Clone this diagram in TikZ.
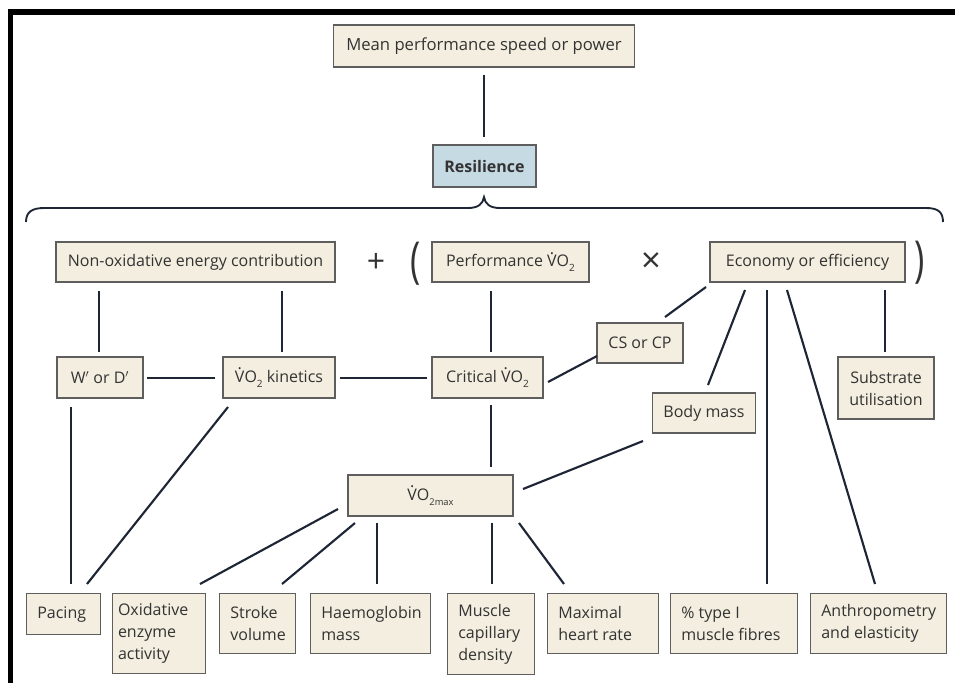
\documentclass[tikz,border=0pt]{standalone}
\usepackage{fontspec}
\usepackage{graphicx}
\setmainfont{Open Sans}
\usetikzlibrary{calc}
\definecolor{beige}{HTML}{F3EEDF}
\definecolor{bline}{HTML}{5E5E5E}
\definecolor{cline}{HTML}{1E2636}
\definecolor{resblue}{HTML}{C5DAE3}
\definecolor{txt}{HTML}{333333}
\newcommand\Vd{V\llap{\raisebox{0.78em}{.}\kern0.17em}}
\newcommand\lowsub[1]{\raisebox{-0.32em}{\fontsize{7.5}{7.5}\selectfont #1}}
\newcommand\VOt{\Vd O\lowsub{2}}
\begin{document}
\begin{tikzpicture}[x=0.75pt,y=-0.75pt,
  box/.style={draw=bline, fill=beige, line width=1pt, text=txt, inner xsep=8pt, inner ysep=3pt,
    font=\fontsize{12}{16.5}\selectfont},
  sz/.style 2 args={minimum width=#1*0.75pt, minimum height=#2*0.75pt},
  bot/.style={box, align=flush left, anchor=north west},
  conn/.style={draw=cline, line width=1.6pt},
  sym/.style={text=txt, inner sep=0pt}
]
\useasboundingbox (0,0) rectangle (955,683);
% frame
\fill[black] (8,9) rectangle (13,683);
\fill[black] (8,9) rectangle (955,15);

% nodes
\node[box, sz={301}{42}, font=\fontsize{12.5}{16.5}\selectfont] (mean) at (484,46) {Mean performance speed or power};
\node[box, sz={103}{42}, fill=resblue, font=\fontsize{12}{14}\selectfont\bfseries] (res) at (484.5,166) {Resilience};
\node[box, sz={279}{40}] (nonox) at (195.5,262) {Non-oxidative energy contribution};
\node[box, sz={157}{40}, inner xsep=4pt] (perf) at (510.5,262) {Performance \VOt};
\node[box, sz={195}{40}] (econ) at (807.5,262) {Economy or efficiency};
\node[box, sz={86}{41}] (wd) at (100,377.5) {W$'$ or D$'$};
\node[box, sz={112}{41}] (kin) at (279,377.5) {\VOt\ kinetics};
\node[box, sz={111}{41}] (crit) at (487.5,377.5) {Critical \VOt};
\node[box, sz={86}{40}] (cs) at (640,343) {CS or CP};
\node[box, sz={102}{40}] (body) at (704,413) {Body mass};
\node[box, sz={96}{62}, align=center] (sub) at (886,388) {Substrate\\utilisation};
\node[box, sz={165}{41}] (vmax) at (430.5,495.5) {\Vd O\lowsub{\fontsize{7}{7}\selectfont 2max}};

\node[bot, sz={74}{41}, text width=39.5pt] (pacing) at (26,593) {Pacing};
\node[bot, sz={93}{80}, inner xsep=4pt, text width=61.75pt] (oxid) at (112,593) {Oxidative\\enzyme\\activity};
\node[bot, sz={76}{60}, text width=41pt] (stroke) at (219,593) {Stroke\\volume};
\node[bot, sz={120}{60}, text width=74pt] (haem) at (310,593) {Haemoglobin\\mass};
\node[bot, sz={87}{81}, text width=49.25pt] (muscle) at (447,593) {Muscle\\capillary\\density};
\node[bot, sz={111}{60}, text width=67.25pt] (maxhr) at (547,593) {Maximal\\heart rate};
\node[bot, sz={127}{60}, text width=79.25pt] (type1) at (670,593) {\% type I\\muscle fibres};
\node[bot, sz={136}{60}, text width=86pt] (anthro) at (810,593) {Anthropometry\\and elasticity};

% operators
\node[sym, font=\fontsize{24}{24}\selectfont] (plus) at (376,263) {+};
\node[sym, font=\fontsize{26}{26}\selectfont] (times) at (651,263) {×};
\node[sym, font=\fontsize{26}{26}\selectfont] (lpar) at (416,264) {\scalebox{1}[1.43]{(}};
\node[sym, font=\fontsize{26}{26}\selectfont] (rpar) at (920,263) {\scalebox{1}[1.43]{)}};

% brace
\draw[cline, line width=1.4pt] (26,222) .. controls (26,212) and (32,208) .. (44,208) -- (468,208)
  .. controls (478,208) and (483,204) .. (484,197) .. controls (485,204) and (490,208) .. (500,208)
  -- (926,208) .. controls (938,208) and (943,212) .. (943,222);

% connectors
\draw[conn] ($(mean.center)+(0,29)$) -- ($(res.center)+(-0.5,-29)$);
\draw[conn] ($(nonox.center)+(-96.5,29)$) -- ($(wd.center)+(-1,-25.5)$);
\draw[conn] ($(nonox.center)+(86.5,29)$) -- ($(kin.center)+(3,-25.5)$);
\draw[conn] ($(wd.center)+(47,0.5)$) -- ($(kin.center)+(-64,0.5)$);
\draw[conn] ($(kin.center)+(61,0.5)$) -- ($(crit.center)+(-60.5,0.5)$);
\draw[conn] ($(perf.center)+(-19.5,29)$) -- ($(crit.center)+(3.5,-25.5)$);
\draw[conn] ($(econ.center)+(-101.5,25)$) -- ($(cs.center)+(25,-26)$);
\draw[conn] ($(cs.center)+(-43,13)$) -- ($(crit.center)+(60.5,4.5)$);
\draw[conn] ($(econ.center)+(-62.5,28)$) -- ($(body.center)+(4,-28)$);
\draw[conn] ($(econ.center)+(-40.5,28)$) -- ($(type1.north west)+(97,-9)$);
\draw[conn] ($(econ.center)+(-20.5,28)$) -- ($(anthro.north west)+(65,-9)$);
\draw[conn] ($(econ.center)+(77.5,28)$) -- ($(sub.center)+(-1,-36)$);
\draw[conn] ($(crit.center)+(3.5,27.5)$) -- ($(vmax.center)+(60.5,-28.5)$);
\draw[conn] ($(body.center)+(-61,28)$) -- ($(vmax.center)+(92.5,-6.5)$);
\draw[conn] ($(wd.center)+(-29,29.5)$) -- ($(pacing.north west)+(45,-9)$);
\draw[conn] ($(kin.center)+(-51,29.5)$) -- ($(pacing.north west)+(61,-9)$);
\draw[conn] ($(vmax.center)+(-92.5,13.5)$) -- ($(oxid.north west)+(88,-9)$);
\draw[conn] ($(vmax.center)+(-75.5,27.5)$) -- ($(stroke.north west)+(63,-9)$);
\draw[conn] ($(vmax.center)+(-53.5,27.5)$) -- ($(haem.north west)+(67,-9)$);
\draw[conn] ($(vmax.center)+(61.5,27.5)$) -- ($(muscle.north west)+(45,-9)$);
\draw[conn] ($(vmax.center)+(88.5,27.5)$) -- ($(maxhr.north west)+(17,-9)$);
\end{tikzpicture}
\end{document}
